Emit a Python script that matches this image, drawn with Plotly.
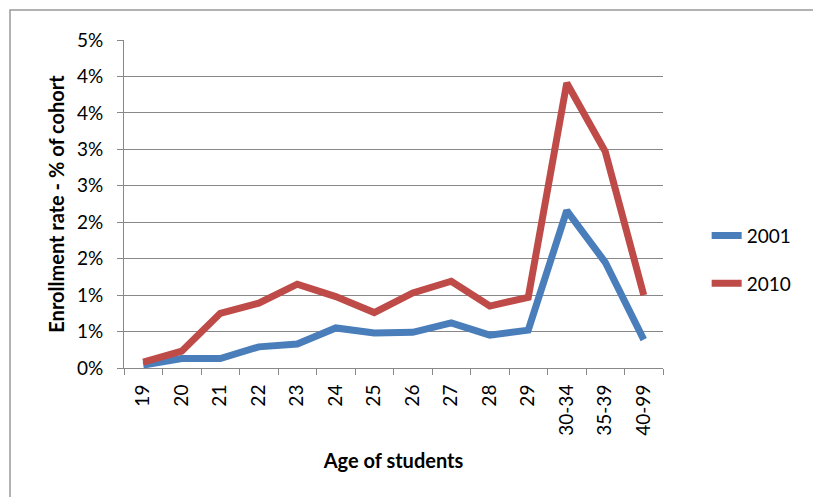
import plotly.graph_objects as go

ages = ["19", "20", "21", "22", "23", "24", "25", "26", "27", "28", "29", "30-34", "35-39", "40-99"]
rate_2001 = [0.04, 0.13, 0.13, 0.29, 0.33, 0.55, 0.48, 0.49, 0.62, 0.45, 0.52, 2.16, 1.45, 0.39]
rate_2010 = [0.08, 0.23, 0.75, 0.89, 1.15, 0.98, 0.76, 1.03, 1.19, 0.85, 0.97, 3.91, 2.97, 1.00]
y_tickvals = [0, 0.5, 1.0, 1.5, 2.0, 2.5, 3.0, 3.5, 4.0, 4.5]
y_ticktext = ["0%", "1%", "1%", "2%", "2%", "3%", "3%", "4%", "4%", "5%"]

FONT = "Lato, Open Sans, sans-serif"

fig = go.Figure()
fig.add_trace(go.Scatter(x=ages, y=rate_2001, mode="lines", name="2001",
                         line=dict(color="#4A7EBB", width=7), legendgroup="a"))
fig.add_trace(go.Scatter(x=ages, y=rate_2010, mode="lines", name="2010",
                         line=dict(color="#BE4B48", width=7), legendgroup="b"))

fig.update_layout(
    width=813, height=489,
    margin=dict(l=116, r=158, t=32, b=129, autoexpand=False),
    paper_bgcolor="white", plot_bgcolor="white",
    font=dict(family=FONT, size=19, color="black"),
    showlegend=True,
    legend=dict(x=1.081, y=0.33, xanchor="left", yanchor="middle",
                font=dict(size=19), traceorder="grouped", tracegroupgap=20,
                bgcolor="rgba(0,0,0,0)"),
    xaxis=dict(
        type="category", range=[-0.5, 13.5], tickson="boundaries", ticks="outside", ticklen=6,
        tickcolor="#888", showline=True, linecolor="#888", linewidth=1,
        tickangle=-90, showgrid=False, automargin=False, ticklabelstandoff=8,
        title=dict(text="<b>Age of students</b>", standoff=19, font=dict(size=20)),
    ),
    yaxis=dict(
        range=[0, 4.5], tickvals=y_tickvals, ticktext=y_ticktext,
        ticks="outside", ticklen=6, tickcolor="#888",
        showline=True, linecolor="#888", linewidth=1, automargin=False,
        showgrid=True, gridcolor="#888", gridwidth=1, zeroline=False,
        ticklabelstandoff=10,
        title=dict(text="<b>Enrollment rate - % of cohort</b>", standoff=6, font=dict(size=20)),
    ),
    shapes=[dict(type="rect", xref="paper", yref="paper",
                 x0=(10 - 124) / 539, x1=1.5, y0=-0.6, y1=(368 - 10) / 328,
                 line=dict(color="#999", width=1.5), fillcolor="rgba(0,0,0,0)", layer="below")],
)

fig.write_html("out.html")
